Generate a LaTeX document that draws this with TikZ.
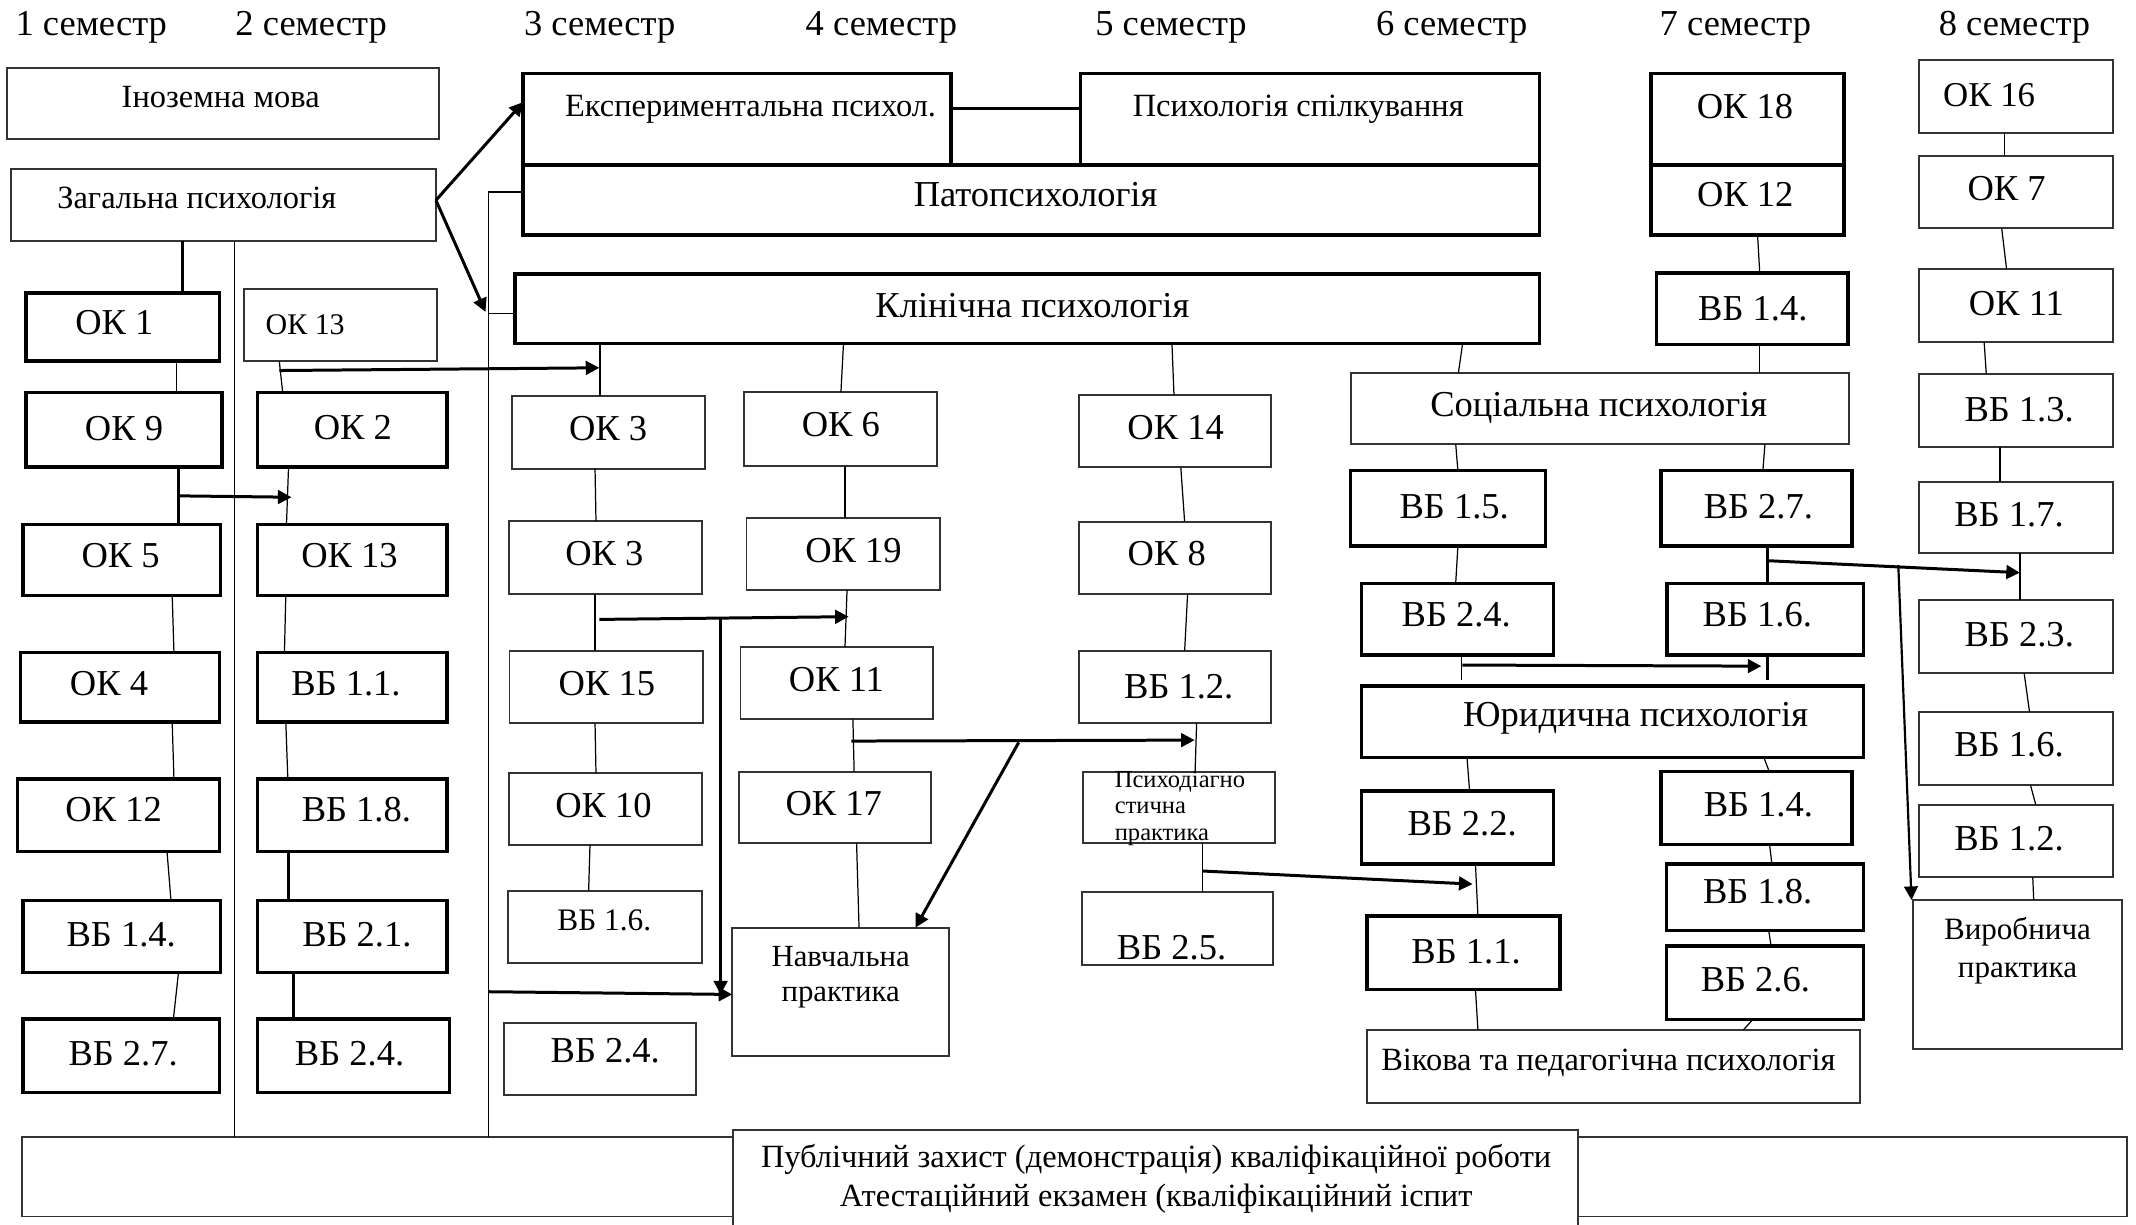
\documentclass[tikz,border=0pt]{standalone}
\usepackage{fontspec}
\setmainfont{Liberation Serif}
\usetikzlibrary{arrows.meta,fit}

\begin{document}
\begin{tikzpicture}[x=0.5pt, y=-0.5pt,
    bbox/.style={draw, line width=1.3pt, inner sep=0pt, outer sep=0pt},
    tbox/.style={draw=black!80, line width=0.7pt, inner sep=0pt, outer sep=0pt},
    lbl/.style={inner sep=0pt, font=\fontsize{13.4}{16}\selectfont},
    midfont/.style={font=\fontsize{11.9}{14}\selectfont},
    link/.style={line width=0.45pt},
    tlink/.style={line width=1.1pt},
    arr/.style={line width=1.1pt, -{Triangle[length=5pt,width=5pt]}}]
    \useasboundingbox (0,0) rectangle (1568,899);

    % semesters
    \node[lbl, anchor=base] (s1) at (67,25.7) {1 семестр};
    \node[lbl, anchor=base] (s2) at (228.4,25.7) {2 семестр};
    \node[lbl, anchor=base] (s3) at (440.2,25.7) {3 семестр};
    \node[lbl, anchor=base] (s4) at (647,25.7) {4 семестр};
    \node[lbl, anchor=base] (s5) at (859.6,25.7) {5 семестр};
    \node[lbl, anchor=base] (s6) at (1065.7,25.7) {6 семестр};
    \node[lbl, anchor=base] (s7) at (1273.9,25.7) {7 семестр};
    \node[lbl, anchor=base] (s8) at (1478.8,25.7) {8 семестр};

    % 1-2 semester
    \node[tbox, fit={(5,50) (322,102)}] (inoz) {};
    \node[lbl, midfont] (inoz-t) at (162,71) {Іноземна мова};
    \node[tbox, fit={(8,124) (320,177)}] (zag) {};
    \node[lbl, midfont, anchor=west] (zag-t) at (41.7,145) {Загальна психологія};
    \node[bbox, fit={(19,215) (161,265)}] (ok1) {};
    \node[lbl] (ok1-t) at (84,237) {ОК 1};
    \node[tbox, fit={(179,212) (321,265)}] (ok13a) {};
    \node[lbl, font=\fontsize{11}{13}\selectfont, anchor=west] (ok13a-t) at (194.6,238.6) {ОК 13};
    \node[bbox, fit={(19,288) (163,343)}] (ok9) {};
    \node[lbl] (ok9-t) at (91,314.3) {ОК 9};
    \node[bbox, fit={(189,288) (328,343)}] (ok2) {};
    \node[lbl] (ok2-t) at (259,314) {ОК 2};
    \node[bbox, fit={(17,385) (162,437)}] (ok5) {};
    \node[lbl] (ok5-t) at (88.5,408) {ОК 5};
    \node[bbox, fit={(189,385) (328,437)}] (ok13b) {};
    \node[lbl] (ok13b-t) at (256.6,408) {ОК 13};
    \node[bbox, fit={(15,479) (161,530)}] (ok4) {};
    \node[lbl] (ok4-t) at (80,502) {ОК 4};
    \node[bbox, fit={(189,479) (328,530)}] (vb11a) {};
    \node[lbl] (vb11a-t) at (254,502) {ВБ 1.1.};
    \node[bbox, fit={(13,572) (161,625)}] (ok12a) {};
    \node[lbl] (ok12a-t) at (83.4,594.6) {ОК 12};
    \node[bbox, fit={(189,572) (328,625)}] (vb18a) {};
    \node[lbl] (vb18a-t) at (261.6,594.6) {ВБ 1.8.};
    \node[bbox, fit={(17,661) (162,714)}] (vb14a) {};
    \node[lbl] (vb14a-t) at (89,686.4) {ВБ 1.4.};
    \node[bbox, fit={(189,661) (328,714)}] (vb21) {};
    \node[lbl] (vb21-t) at (262,686.4) {ВБ 2.1.};
    \node[bbox, fit={(17,748) (161,802)}] (vb27a) {};
    \node[lbl] (vb27a-t) at (90.4,773.3) {ВБ 2.7.};
    \node[bbox, fit={(189,748) (330,802)}] (vb24a) {};
    \node[lbl] (vb24a-t) at (256.6,773.3) {ВБ 2.4.};

    % wide courses
    \node[bbox, fit={(384,54) (698,121)}] (exper) {};
    \node[lbl, midfont] (exper-t) at (551,80) {Експериментальна психол.};
    \node[bbox, fit={(793,54) (1130,121)}] (spilk) {};
    \node[lbl, midfont] (spilk-t) at (953,80) {Психологія спілкування};
    \node[bbox, fit={(384,121) (1130,172.5)}] (pato) {};
    \node[lbl] (pato-t) at (760.2,143.2) {Патопсихологія};
    \node[bbox, fit={(378,201) (1130,252)}] (klin) {};
    \node[lbl] (klin-t) at (757.9,224) {Клінічна психологія};

    % 3-5 semester
    \node[tbox, fit={(376,291) (517.5,344)}] (ok3a) {};
    \node[lbl] (ok3a-t) at (446.4,314.4) {ОК 3};
    \node[tbox, fit={(546,288) (688,342)}] (ok6) {};
    \node[lbl] (ok6-t) at (617.3,312) {ОК 6};
    \node[tbox, fit={(792,290) (933,343)}] (ok14) {};
    \node[lbl] (ok14-t) at (863,313.7) {ОК 14};
    \node[tbox, fit={(373.5,382.5) (515,436)}] (ok3b) {};
    \node[lbl] (ok3b-t) at (443.6,406.2) {ОК 3};
    \node[tbox, fit={(548,380) (690,433)}] (ok19) {};
    \node[lbl] (ok19-t) at (626.5,404) {ОК 19};
    \node[tbox, fit={(792,383) (933,436)}] (ok8) {};
    \node[lbl] (ok8-t) at (856.5,406) {ОК 8};
    \node[tbox, fit={(374,478) (516,531)}] (ok15) {};
    \node[lbl] (ok15-t) at (445.5,501.6) {ОК 15};
    \node[tbox, fit={(543.6,474.7) (685,528)}] (ok11a) {};
    \node[lbl] (ok11a-t) at (614,499.2) {ОК 11};
    \node[tbox, fit={(792,478) (933,531)}] (vb12a) {};
    \node[lbl] (vb12a-t) at (865.3,504) {ВБ 1.2.};
    \node[tbox, fit={(373.5,567.5) (515,620)}] (ok10) {};
    \node[lbl] (ok10-t) at (443,591) {ОК 10};
    \node[tbox, fit={(542.4,566.5) (683.3,619)}] (ok17) {};
    \node[lbl] (ok17-t) at (612,590) {ОК 17};
    \node[tbox, fit={(795,566.5) (936,619)}] (psydiag) {};
    \node[lbl, anchor=west, align=left, font=\fontsize{9}{9.8}\selectfont] (psydiag-t) at (818,593.4) {Психодіагно\\стична\\практика};
    \node[tbox, fit={(373,654) (515,707)}] (vb16a) {};
    \node[lbl, font=\fontsize{11.5}{13}\selectfont] (vb16a-t) at (443.6,675.4) {ВБ 1.6.};
    \node[tbox, fit={(370,751) (511,804)}] (vb24b) {};
    \node[lbl] (vb24b-t) at (444.3,771) {ВБ 2.4.};
    \node[tbox, fit={(537.5,681) (696.7,775)}] (navch) {};
    \node[lbl, align=center, font=\fontsize{11.3}{12.85}\selectfont] (navch-t) at (617.1,717.5) {Навчальна\\практика};
    \node[tbox, fit={(794,655) (934.5,708.4)}] (vb25) {};
    \node[lbl] (vb25-t) at (860,696) {ВБ 2.5.};

    % 6-7 semester
    \node[bbox, fit={(1212,54) (1353.6,121)}] (ok18) {};
    \node[lbl] (ok18-t) at (1281,78.3) {ОК 18};
    \node[bbox, fit={(1212,121) (1353.6,172.5)}] (ok12b) {};
    \node[lbl] (ok12b-t) at (1281.2,143.2) {ОК 12};
    \node[bbox, fit={(1216,200.6) (1356.7,252.8)}] (vb14b) {};
    \node[lbl] (vb14b-t) at (1286.7,226.3) {ВБ 1.4.};
    \node[tbox, fit={(991.5,273.6) (1357.5,326)}] (social) {};
    \node[lbl] (social-t) at (1173.6,299.8) {Соціальна психологія};
    \node[bbox, fit={(991.5,345.5) (1134.4,400.8)}] (vb15) {};
    \node[lbl] (vb15-t) at (1067.5,372) {ВБ 1.5.};
    \node[bbox, fit={(1219.4,345.5) (1359.4,400.8)}] (vb27b) {};
    \node[lbl] (vb27b-t) at (1290.8,372) {ВБ 2.7.};
    \node[bbox, fit={(999.3,428.2) (1140.3,480.8)}] (vb24c) {};
    \node[lbl] (vb24c-t) at (1069,451.5) {ВБ 2.4.};
    \node[bbox, fit={(1223.6,428.2) (1368,480.8)}] (vb16b) {};
    \node[lbl] (vb16b-t) at (1290,451.5) {ВБ 1.6.};
    \node[bbox, fit={(999.3,503.4) (1368,556)}] (yur) {};
    \node[lbl, anchor=west] (yur-t) at (1073.7,527.3) {Юридична психологія};
    \node[bbox, fit={(999.3,580.7) (1140.3,634.3)}] (vb22) {};
    \node[lbl] (vb22-t) at (1073.3,604.4) {ВБ 2.2.};
    \node[bbox, fit={(1219.4,566.5) (1359.4,619.8)}] (vb14c) {};
    \node[lbl] (vb14c-t) at (1290.8,591) {ВБ 1.4.};
    \node[bbox, fit={(1223.2,634.3) (1367.9,683.2)}] (vb18b) {};
    \node[lbl] (vb18b-t) at (1290.3,654.6) {ВБ 1.8.};
    \node[bbox, fit={(1223.2,694.5) (1367.9,748.3)}] (vb26) {};
    \node[lbl] (vb26-t) at (1288.6,719.4) {ВБ 2.6.};
    \node[bbox, fit={(1003.3,672.4) (1145,726.3)}] (vb11b) {};
    \node[lbl] (vb11b-t) at (1076.2,698.6) {ВБ 1.1.};
    \node[tbox, fit={(1003.3,756) (1365.5,809.5)}] (vik) {};
    \node[lbl, midfont] (vik-t) at (1180.7,780.6) {Вікова та педагогічна психологія};

    % 8 semester
    \node[tbox, fit={(1408.4,44) (1551.2,97.4)}] (ok16) {};
    \node[lbl, anchor=west, font=\fontsize{12.8}{15}\selectfont] (ok16-t) at (1426,69.7) {ОК 16};
    \node[tbox, fit={(1408.4,114.5) (1551.2,167.6)}] (ok7) {};
    \node[lbl] (ok7-t) at (1473,138.3) {ОК 7};
    \node[tbox, fit={(1408.4,197.7) (1551.2,250.8)}] (ok11b) {};
    \node[lbl] (ok11b-t) at (1480.2,222.7) {ОК 11};
    \node[tbox, fit={(1408.4,274.8) (1551.2,327.9)}] (vb13) {};
    \node[lbl] (vb13-t) at (1482.2,301) {ВБ 1.3.};
    \node[tbox, fit={(1408.4,353.6) (1551.2,406.2)}] (vb17) {};
    \node[lbl] (vb17-t) at (1474.8,378) {ВБ 1.7.};
    \node[tbox, fit={(1408.4,440.5) (1551.2,494.3)}] (vb23) {};
    \node[lbl] (vb23-t) at (1482.3,466.2) {ВБ 2.3.};
    \node[tbox, fit={(1408.4,522.5) (1551.2,576.3)}] (vb16c) {};
    \node[lbl] (vb16c-t) at (1474.8,546.9) {ВБ 1.6.};
    \node[tbox, fit={(1408.4,591) (1551.2,644)}] (vb12b) {};
    \node[lbl] (vb12b-t) at (1474.8,615.4) {ВБ 1.2.};
    \node[tbox, fit={(1404.3,660.7) (1557.6,770.3)}] (vyrob) {};
    \node[lbl, align=center, font=\fontsize{11.4}{14}\selectfont] (vyrob-t) at (1481,698) {Виробнича\\практика};

    % attestation
    \node[tbox, fit={(16.4,834.4) (1561.6,893)}] (frame) {};
    \node[tbox, fill=white, fit={(538.4,829.5) (1158.4,905)}] (pub) {};
    \node[lbl, align=center, font=\fontsize{11.9}{14.5}\selectfont] (pub-t) at (848.7,865.5) {Публічний захист (демонстрація) кваліфікаційної роботи\\Атестаційний екзамен (кваліфікаційний іспит};

    % separators
    \draw[link] (172,0 |- zag.south) -- (172,0 |- frame.north);
    \draw[link] (pato.west |- 0,141) -| (358.5,0 |- frame.north);
    \draw[link] (358.5,230) -- (klin.west |- 0,230);

    % links 1-2 semester
    \draw[tlink] (134,0 |- zag.south) -- (134,0 |- ok1.north);
    \draw[link] (129.5,0 |- ok1.south) -- (129.5,0 |- ok9.north);
    \draw[tlink] (131,0 |- ok9.south) -- (131,0 |- ok5.north);
    \draw[link] (205,0 |- ok13a.south) -- (207.5,0 |- ok2.north);
    \draw[link] (211.8,0 |- ok2.south) -- (210.3,0 |- ok13b.north);
    \draw[link] (126.4,0 |- ok5.south) -- (127.7,0 |- ok4.north);
    \draw[link] (209.8,0 |- ok13b.south) -- (208.8,0 |- vb11a.north);
    \draw[link] (126.4,0 |- ok4.south) -- (127.7,0 |- ok12a.north);
    \draw[link] (209.8,0 |- vb11a.south) -- (211.3,0 |- vb18a.north);
    \draw[link] (122.6,0 |- ok12a.south) -- (125.5,0 |- vb14a.north);
    \draw[tlink] (212,0 |- vb18a.south) -- (212,0 |- vb21.north);
    \draw[link] (131,0 |- vb14a.south) -- (127.3,0 |- vb27a.north);
    \draw[tlink] (215.8,0 |- vb21.south) -- (215.8,0 |- vb24a.north);

    % links 3-5 semester
    \draw[tlink] (exper.east |- 0,79.5) -- (spilk.west |- 0,79.5);
    \draw[link] (440.5,0 |- klin.south) -- (440.5,0 |- ok3a.north);
    \draw[link] (619.2,0 |- klin.south) -- (617.3,0 |- ok6.north);
    \draw[link] (860.3,0 |- klin.south) -- (861.8,0 |- ok14.north);
    \draw[link] (1073.7,0 |- klin.south) -- (1070.6,0 |- social.north);
    \draw[link] (436.8,0 |- ok3a.south) -- (437.5,0 |- ok3b.north);
    \draw[link] (620.3,0 |- ok6.south) -- (620.3,0 |- ok19.north);
    \draw[link] (866.8,0 |- ok14.south) -- (869.6,0 |- ok8.north);
    \draw[link] (436.8,0 |- ok3b.south) -- (436.8,0 |- ok15.north);
    \draw[link] (621.8,0 |- ok19.south) -- (620.3,0 |- ok11a.north);
    \draw[link] (871.8,0 |- ok8.south) -- (869.6,0 |- vb12a.north);
    \draw[link] (436.8,0 |- ok15.south) -- (437.5,0 |- ok10.north);
    \draw[link] (626.1,0 |- ok11a.south) -- (627,0 |- ok17.north);
    \draw[link] (878.4,0 |- vb12a.south) -- (877.3,0 |- psydiag.north);
    \draw[link] (433.1,0 |- ok10.south) -- (432.1,0 |- vb16a.north);
    \draw[link] (628.8,0 |- ok17.south) -- (630.6,0 |- navch.north);
    \draw[link] (882.9,0 |- psydiag.south) -- (882.9,0 |- vb25.north);

    % links 6-8 semester
    \draw[link] (1290.2,0 |- ok12b.south) -- (1291.8,0 |- vb14b.north);
    \draw[link] (1291.8,0 |- vb14b.south) -- (1291.8,0 |- social.north);
    \draw[link] (1471.7,0 |- ok16.south) -- (1471.7,0 |- ok7.north);
    \draw[link] (1469.4,0 |- ok7.south) -- (1473,0 |- ok11b.north);
    \draw[link] (1456.5,0 |- ok11b.south) -- (1458.1,0 |- vb13.north);
    \draw[link] (1468.2,0 |- vb13.south) -- (1468.2,0 |- vb17.north);
    \draw[link] (1482.8,0 |- vb17.south) -- (1482.8,0 |- vb23.north);
    \draw[link] (1485.9,0 |- vb23.south) -- (1489.8,0 |- vb16c.north);
    \draw[link] (1490.5,0 |- vb16c.south) -- (1494.5,0 |- vb12b.north);
    \draw[link] (1492.2,0 |- vb12b.south) -- (1492.9,0 |- vyrob.north);
    \draw[link] (1068.6,0 |- social.south) -- (1070.2,0 |- vb15.north);
    \draw[link] (1295.6,0 |- social.south) -- (1294.1,0 |- vb27b.north);
    \draw[tlink] (1297.6,0 |- vb27b.south) -- (1297.6,0 |- vb16b.north);
    \draw[link] (1070.2,0 |- vb15.south) -- (1068.6,0 |- vb24c.north);
    \draw[tlink] (1297.6,0 |- vb16b.south) -- (1297.6,499);
    \draw[link] (1073,0 |- vb24c.south) -- (1073,499);
    \draw[link] (1076.9,0 |- yur.south) -- (1078.8,0 |- vb22.north);
    \draw[link] (1294.8,0 |- yur.south) -- (1298.8,0 |- vb14c.north);
    \draw[link] (1299,0 |- vb14c.south) -- (1300.7,0 |- vb18b.north);
    \draw[link] (1298.4,0 |- vb18b.south) -- (1300.1,0 |- vb26.north);
    \draw[link] (1286.8,0 |- vb26.south) -- (1279.8,0 |- vik.north);
    \draw[link] (1083.1,0 |- vb22.south) -- (1084.9,0 |- vb11b.north);
    \draw[link] (1083.1,0 |- vb11b.south) -- (1084.9,0 |- vik.north);

    % arrows
    \coordinate (zagout) at (zag.east |- 0,147);
    \draw[arr] (zagout) -- (exper.west |- 0,75);
    \coordinate (sepin) at (356.4,229);
    \draw[arr] (zagout) -- (sepin);
    \coordinate (j1) at (131,364);
    \coordinate (j1e) at (214,365);
    \draw[arr] (j1) -- (j1e);
    \coordinate (j2) at (205,272);
    \coordinate (j2e) at (440,270);
    \draw[arr] (j2) -- (j2e);
    \coordinate (j3) at (440,454.7);
    \coordinate (j3e) at (623,452.7);
    \draw[arr] (j3) -- (j3e);
    \coordinate (j4) at (529,453.5);
    \coordinate (j4e) at (529,730);
    \draw[arr] (j4) -- (j4e);
    \coordinate (j5) at (358.5,728);
    \draw[arr] (j5) -- (navch.west |- 0,730);
    \coordinate (j6) at (625,544);
    \coordinate (j6e) at (877,543.3);
    \draw[arr] (j6) -- (j6e);
    \coordinate (j7) at (747.8,545);
    \draw[arr] (j7) -- (672,0 |- navch.north);
    \coordinate (j8) at (882.9,639.4);
    \coordinate (j8e) at (1081,649);
    \draw[arr] (j8) -- (j8e);
    \coordinate (j9) at (1297.6,411.6);
    \coordinate (j9e) at (1482.8,420.4);
    \draw[arr] (j9) -- (j9e);
    \coordinate (j10) at (1393.5,414.8);
    \draw[arr, line width=0.8pt] (j10) -- (1403.2,0 |- vyrob.north);
    \coordinate (j11) at (1073.5,488.2);
    \coordinate (j11e) at (1293,489);
    \draw[arr] (j11) -- (j11e);
\end{tikzpicture}
\end{document}
